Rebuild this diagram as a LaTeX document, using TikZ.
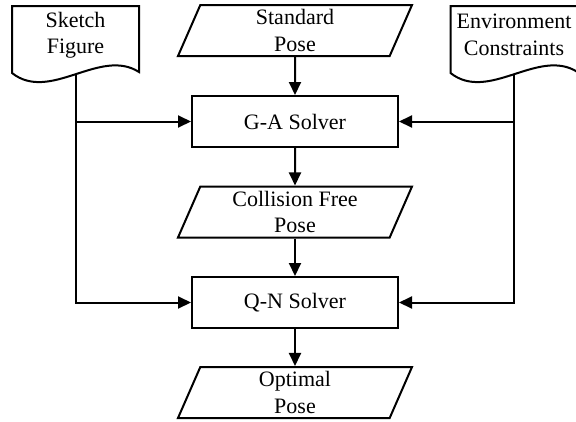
\documentclass[tikz,border=0pt]{standalone}
\usepackage{fontspec}
\setmainfont{Liberation Serif}
\usetikzlibrary{shapes.geometric,arrows.meta,calc}

\begin{document}
\begin{tikzpicture}[x=1pt,y=-1pt,
  every node/.style={font=\fontsize{22}{26.5}\selectfont, align=center},
  solver/.style={draw, line width=2pt, minimum width=206pt, minimum height=51pt, inner sep=0pt},
  pose/.style={draw, line width=2pt, trapezium, trapezium left angle=62, trapezium right angle=118,
    trapezium stretches body, minimum width=234pt, minimum height=51pt, inner sep=0pt},
  outline/.style={line width=2pt},
  flow/.style={line width=2pt, -{Triangle[length=13pt,width=12pt]}}]
\useasboundingbox (0,0) rectangle (576,421);

% inputs on both sides
\node (sketch) at (75.5,35) {Sketch\\Figure};
\node (env) at (514,35) {Environment\\Constraints};
\draw [outline] ($(sketch)+(-63.5,38)$) -- ++(0,-67) -- ++(127,0) -- ++(0,66)
  .. controls +(-39,-25) and +(38,30) .. ($(sketch)+(-63.5,38)$) -- cycle;
\draw [outline] ($(env)+(-63.5,38)$) -- ++(0,-67) -- ++(127,0) -- ++(0,66)
  .. controls +(-39,-25) and +(38,30) .. ($(env)+(-63.5,38)$) -- cycle;
\coordinate (sketch-out) at ($(sketch)+(0,39)$);
\coordinate (env-out) at ($(env)+(0,39)$);

% main column
\node [pose] (std) at (295,30.5) {Standard\\Pose};
\node [solver] (ga) at (295,121.5) {G-A Solver};
\node [pose] (cfp) at (295,212) {Collision Free\\Pose};
\node [solver] (qn) at (295,302.5) {Q-N Solver};
\node [pose] (opt) at (295,392.5) {Optimal\\Pose};

\draw [flow] (std) -- (ga);
\draw [flow] (ga) -- (cfp);
\draw [flow] (cfp) -- (qn);
\draw [flow] (qn) -- (opt);

% side inputs
\draw [flow] (sketch-out) |- (qn);
\draw [flow] (sketch-out |- ga) -- (ga);
\draw [flow] (env-out) |- (qn);
\draw [flow] (env-out |- ga) -- (ga);
\end{tikzpicture}
\end{document}
